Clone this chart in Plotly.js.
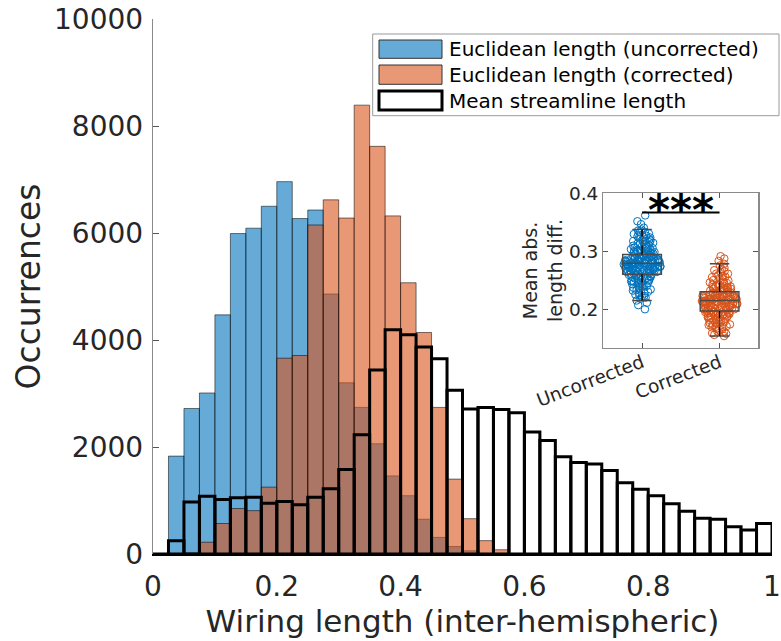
<!DOCTYPE html>
<html>
<head>
<meta charset="utf-8">
<script src="https://cdn.plot.ly/plotly-3.0.1.min.js"></script>
<style>html,body{margin:0;padding:0;background:#fff;}#chart{width:781px;height:641px;}</style>
</head>
<body>
<div id="chart"></div>
<script>
// ---- Data ----
const binCenters = [0.0125,0.0375,0.0625,0.0875,0.1125,0.1375,0.1625,0.1875,0.2125,0.2375,
  0.2625,0.2875,0.3125,0.3375,0.3625,0.3875,0.4125,0.4375,0.4625,0.4875,
  0.5125,0.5375,0.5625,0.5875,0.6125,0.6375,0.6625,0.6875,0.7125,0.7375,
  0.7625,0.7875,0.8125,0.8375,0.8625,0.8875,0.9125,0.9375,0.9625,0.9875];
const binWidth = 0.025;

const euclidUncorrected = [0,1830,2720,3010,4470,5990,6090,6500,6960,6270,
  6430,4860,3200,2740,2060,1460,1090,650,310,140,
  60,0,0,0,0,0,0,0,0,0,
  0,0,0,0,0,0,0,0,0,0];
const euclidCorrected = [0,0,20,220,570,850,810,1250,3660,3710,
  6150,6620,6280,8390,7620,6320,5070,4140,2740,1400,
  660,250,80,0,0,0,0,0,0,0,
  0,0,0,0,0,0,0,0,0,0];
const streamlineLength = [0,250,970,1080,1020,1050,1060,950,980,920,
  1060,1220,1580,2230,3440,4190,4100,3870,3650,3060,
  2710,2740,2700,2640,2280,2120,1820,1710,1680,1560,
  1330,1210,1090,940,800,670,650,510,450,570];

const seriesNames = ['Euclidean length (uncorrected)','Euclidean length (corrected)','Mean streamline length'];
const xTickVals = [0,0.2,0.4,0.6,0.8,1];
const xTickText = ['0','0.2','0.4','0.6','0.8','1'];
const yTickVals = [0,2000,4000,6000,8000,10000];
const yTickText = ['0','2000','4000','6000','8000','10000'];

// inset: mean absolute length difference per subject
const insetCategories = ['Uncorrected','Corrected'];
const insetPos = [1,2];
const insetTickVals = [0.2,0.3,0.4];
const insetTickText = ['0.2','0.3','0.4'];
const diffUncorrected = [0.362,0.352,0.347,0.341,0.338,0.336,0.334,0.333,0.331,0.329,0.327,0.326,0.324,0.322,0.321,0.319,0.318,0.316,0.315,0.313,
  0.312,0.311,0.309,0.308,0.307,0.305,0.304,0.303,0.302,0.300,0.299,0.298,0.297,0.296,0.295,0.294,0.293,0.292,0.291,0.290,
  0.289,0.289,0.288,0.287,0.286,0.285,0.284,0.284,0.283,0.282,0.281,0.281,0.280,0.279,0.279,0.278,0.277,0.276,0.275,0.275,
  0.274,0.273,0.272,0.271,0.270,0.269,0.268,0.267,0.266,0.265,0.264,0.263,0.262,0.261,0.259,0.258,0.256,0.254,0.252,0.250,
  0.248,0.246,0.244,0.242,0.240,0.237,0.234,0.231,0.228,0.226,0.224,0.222,0.219,0.216,0.212,0.208,0.201,
  0.300,0.297,0.294,0.292,0.290,0.288,0.287,0.286,0.285,0.284,0.283,0.282,0.282,0.281,0.280,0.280,0.279,0.278,0.278,0.277,
  0.276,0.275,0.274,0.273,0.272,0.271,0.270,0.268,0.266,0.264,0.262,0.260,0.257,0.255,0.252,0.249,0.246,0.243,0.239,0.235,
  0.318,0.314,0.310,0.306,0.303,0.301,0.299,0.296,0.293,0.291,0.289,0.286,0.283,0.281,0.279,0.277,0.275,0.273,0.271,0.269,
  0.267,0.265,0.263,0.261,0.259,0.256,0.253,0.250,0.247,0.244,0.241,0.238,0.233,0.229,0.225,0.221,0.330,0.325,0.320,0.316];
const diffCorrected = [0.292,0.288,0.284,0.279,0.276,0.272,0.268,0.265,0.262,0.259,0.256,0.254,0.252,0.250,0.248,0.246,0.244,0.242,0.241,0.239,
  0.238,0.236,0.235,0.234,0.233,0.232,0.231,0.230,0.229,0.228,0.227,0.226,0.225,0.224,0.223,0.222,0.221,0.220,0.219,0.219,
  0.218,0.217,0.216,0.216,0.215,0.214,0.213,0.212,0.211,0.210,0.209,0.208,0.207,0.206,0.205,0.204,0.203,0.202,0.201,0.200,
  0.199,0.198,0.197,0.196,0.194,0.193,0.191,0.190,0.188,0.186,0.184,0.182,0.180,0.178,0.176,0.174,0.172,0.170,0.168,0.166,
  0.163,0.160,0.157,0.155,
  0.245,0.240,0.237,0.234,0.231,0.229,0.227,0.225,0.223,0.222,0.221,0.220,0.219,0.218,0.217,0.216,0.215,0.214,0.213,0.212,
  0.211,0.210,0.209,0.207,0.205,0.203,0.201,0.199,0.197,0.195,0.193,0.191,0.189,0.187,0.185,0.183,0.180,0.177,0.174,0.171,
  0.262,0.257,0.251,0.247,0.243,0.239,0.236,0.233,0.230,0.228,0.226,0.224,0.222,0.220,0.218,0.216,0.214,0.212,0.210,0.208,
  0.206,0.204,0.202,0.200,0.198,0.196,0.194,0.192,0.189,0.186,0.183,0.179,0.175,0.171,0.167,0.163,0.159,0.270,0.266,0.258];
// box statistics
const boxQ1 = [0.261,0.198];
const boxMedian = [0.280,0.216];
const boxQ3 = [0.295,0.231];
const boxLow = [0.216,0.155];
const boxHigh = [0.338,0.279];
const sigLevel = 0.367;

// ---- Styling ----
const FONT = 'DejaVu Sans, Arial, sans-serif';
const TXT = '#262626';
const AX = '#8a8a8a';
const BLUE = 'rgb(0,114,189)';
const ORANGE = 'rgb(217,83,25)';
const W = 781, H = 641;
const M = {l:153, r:9, t:19, b:87};
const PW = W - M.l - M.r, PH = H - M.t - M.b;
const px = v => (v - M.l) / PW;
const py = v => (H - M.b - v) / PH;

const traces = [
  {type:'bar', x:binCenters, y:euclidUncorrected, width:binWidth, name:seriesNames[0],
   marker:{color:'rgba(0,114,189,0.6)', line:{color:'rgba(0,0,0,0.75)', width:0.7}}, hoverinfo:'skip'},
  {type:'bar', x:binCenters, y:euclidCorrected, width:binWidth, name:seriesNames[1],
   marker:{color:'rgba(217,83,25,0.6)', line:{color:'rgba(0,0,0,0.75)', width:0.7}}, hoverinfo:'skip'},
  {type:'bar', x:binCenters, y:streamlineLength, width:binWidth, name:seriesNames[2],
   marker:{color:'rgba(0,0,0,0)', line:{color:'#000', width:3}}, hoverinfo:'skip'},
  // inset points
  {type:'box', y:diffUncorrected, x0:insetPos[0], boxpoints:'all', jitter:0.95, pointpos:0, width:0.5,
   fillcolor:'rgba(0,0,0,0)', line:{width:0, color:'rgba(0,0,0,0)'},
   marker:{symbol:'circle', size:7.5, color:'rgba(0,0,0,0)', line:{color:BLUE, width:1}},
   xaxis:'x2', yaxis:'y2', hoverinfo:'skip'},
  {type:'box', y:diffCorrected, x0:insetPos[1], boxpoints:'all', jitter:0.95, pointpos:0, width:0.5,
   fillcolor:'rgba(0,0,0,0)', line:{width:0, color:'rgba(0,0,0,0)'},
   marker:{symbol:'circle', size:7.5, color:'rgba(0,0,0,0)', line:{color:ORANGE, width:1}},
   xaxis:'x2', yaxis:'y2', hoverinfo:'skip'},
  // inset boxes (precomputed statistics)
  {type:'box', x:insetPos, q1:boxQ1, median:boxMedian, q3:boxQ3, lowerfence:boxLow, upperfence:boxHigh,
   boxpoints:false, width:0.5, whiskerwidth:0.5, fillcolor:'rgba(0,0,0,0)',
   line:{color:'#4a4a4a', width:1.4}, xaxis:'x2', yaxis:'y2', hoverinfo:'skip'}
];

// manual legend (wide swatches as in the reference)
const legRows = [
  {y0:40, y1:58.3, fill:'rgb(102,170,215)', lc:'#333', lw:1},
  {y0:65, y1:84.3, fill:'rgb(232,152,117)', lc:'#333', lw:1},
  {y0:91, y1:110, fill:'#fff', lc:'#000', lw:3}
];
const shapes = [
  {type:'rect', xref:'paper', yref:'paper', x0:px(372.7), x1:px(779), y0:py(115.7), y1:py(34),
   fillcolor:'#fff', line:{color:'#999', width:1}}
];
const annotations = [];
legRows.forEach((r, i) => {
  shapes.push({type:'rect', xref:'paper', yref:'paper', x0:px(379), x1:px(442), y0:py(r.y1), y1:py(r.y0),
    fillcolor:r.fill, line:{color:r.lc, width:r.lw}});
  annotations.push({xref:'paper', yref:'paper', x:px(447), y:py((r.y0 + r.y1) / 2), xanchor:'left', yanchor:'middle',
    text:seriesNames[i], showarrow:false, font:{family:FONT, size:20, color:'#000'}});
});
// dashed black whiskers (MATLAB boxplot style), drawn from the box statistics
insetPos.forEach((p, i) => {
  shapes.push({type:'line', xref:'x2', yref:'y2', x0:p, x1:p, y0:boxQ3[i], y1:boxHigh[i], line:{color:'#000', width:1.2, dash:'dash'}});
  shapes.push({type:'line', xref:'x2', yref:'y2', x0:p, x1:p, y0:boxLow[i], y1:boxQ1[i], line:{color:'#000', width:1.2, dash:'dash'}});
});
// significance bar
shapes.push({type:'line', xref:'x2', yref:'y2', x0:insetPos[0], x1:insetPos[1], y0:sigLevel, y1:sigLevel,
  line:{color:'#000', width:2}});
annotations.push({xref:'x2', yref:'y2', x:(insetPos[0] + insetPos[1]) / 2, y:sigLevel, yanchor:'middle', yshift:2,
  text:'<b>***</b>', showarrow:false, font:{family:FONT, size:42, color:'#000'}});

const layout = {
  width:W, height:H, margin:M, paper_bgcolor:'#fff', plot_bgcolor:'rgba(0,0,0,0)',
  barmode:'overlay', bargap:0, showlegend:false, boxmode:'overlay',
  font:{family:FONT, color:TXT},
  xaxis:{range:[0,1], tickvals:xTickVals, ticktext:xTickText,
    ticks:'', showgrid:false, zeroline:false, showline:true, linecolor:'#000', linewidth:2,
    tickfont:{size:28, color:TXT}, ticklabelstandoff:6,
    title:{text:'Wiring length (inter-hemispheric)', font:{size:31, color:TXT}, standoff:8}},
  yaxis:{range:[0,10000], tickvals:yTickVals, ticktext:yTickText,
    ticks:'inside', ticklen:6, tickcolor:'#555', tickwidth:1, showgrid:false, zeroline:false,
    showline:true, linecolor:AX, linewidth:1.3, tickfont:{size:28, color:TXT}, ticklabelstandoff:3,
    title:{text:'Occurrences', font:{size:33, color:TXT}, standoff:3}},
  xaxis2:{domain:[px(603.3), px(758.3)], anchor:'y2', range:[0.5,2.5], tickvals:insetPos, ticktext:insetCategories,
    tickangle:-21, ticks:'inside', ticklen:5, tickcolor:'#555', showline:true, mirror:'ticks', linecolor:AX, linewidth:1.2,
    showgrid:false, zeroline:false, tickfont:{size:18.5, color:TXT}, ticklabelstandoff:-4},
  yaxis2:{domain:[py(347.7), py(193.3)], anchor:'x2', range:[0.135,0.4], tickvals:insetTickVals, ticktext:insetTickText,
    ticks:'inside', ticklen:5, tickcolor:'#555', showline:true, mirror:'ticks', linecolor:AX, linewidth:1.2,
    showgrid:false, zeroline:false, tickfont:{size:18.5, color:TXT},
    title:{text:'Mean abs.<br>length diff.', font:{size:19, color:TXT}, standoff:1}},
  shapes:shapes, annotations:annotations
};

Plotly.newPlot('chart', traces, layout, {displayModeBar:false, staticPlot:true});
</script>
</body>
</html>
